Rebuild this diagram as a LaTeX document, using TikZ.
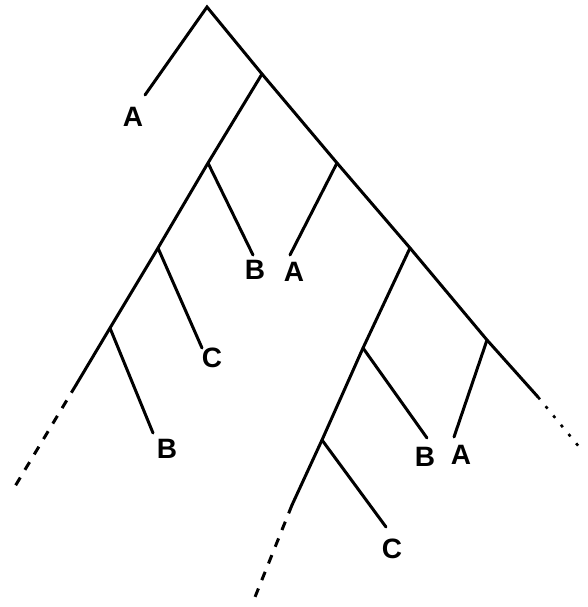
\documentclass[tikz,border=0pt]{standalone}
\usepackage{fontspec}
\setmainfont{Liberation Sans}
\begin{document}
\begin{tikzpicture}[x=1pt,y=-1pt,
  br/.style={line width=3pt,line cap=round},
  dsh/.style={line width=3pt,dash pattern=on 9pt off 9pt},
  dot/.style={line width=2.6pt,dash pattern=on 3pt off 9pt},
  lbl/.style={font=\fontsize{28}{28}\selectfont\bfseries,inner sep=0pt}]
\useasboundingbox (0,0) rectangle (588,607);
% internal nodes
\coordinate (r) at (207,7);
\coordinate (n1) at (262,74);
\coordinate (n2) at (208,163);
\coordinate (n3) at (158,248);
\coordinate (n4) at (110,328);
\coordinate (m1) at (337,163);
\coordinate (m2) at (410,248);
\coordinate (m3) at (487,340);
\coordinate (p1) at (363,348);
\coordinate (p2) at (322,440);
% leaf ends
\coordinate (la) at (145,95);
\coordinate (lb1) at (253,255);
\coordinate (lc1) at (202,348);
\coordinate (lb2) at (153,433);
\coordinate (la2) at (290,255);
\coordinate (lb3) at (427,438);
\coordinate (lc2) at (386,527);
\coordinate (la3) at (454,437);
\coordinate (e1) at (76,385);
\coordinate (e1d) at (14,488);
\coordinate (e2) at (292,505);
\coordinate (e2d) at (253,602);
\coordinate (e3) at (538,397);
\coordinate (e3d) at (580,448);
% labels
\node[lbl] (A1) at (133,117) {A};
\node[lbl] (B1) at (255,270) {B};
\node[lbl] (A2) at (294,272) {A};
\node[lbl] (C1) at (212,358) {C};
\node[lbl] (B2) at (167,449) {B};
\node[lbl] (B3) at (425,457) {B};
\node[lbl] (A3) at (461,455) {A};
\node[lbl] (C2) at (392,549) {C};
% branches
\draw[br] (la) -- (r) -- (n1) -- (m1) -- (m2) -- (m3) -- (e3);
\draw[br] (n1) -- (n2) -- (n3) -- (n4) -- (e1);
\draw[br] (n2) -- (lb1);
\draw[br] (n3) -- (lc1);
\draw[br] (n4) -- (lb2);
\draw[br] (m1) -- (la2);
\draw[br] (m2) -- (p1) -- (p2) -- (e2);
\draw[br] (p1) -- (lb3);
\draw[br] (p2) -- (lc2);
\draw[br] (m3) -- (la3);
\draw[dsh] (e1) -- (e1d);
\draw[dsh] (e2) -- (e2d);
\draw[dot] (e3) -- (e3d);
\end{tikzpicture}
\end{document}
